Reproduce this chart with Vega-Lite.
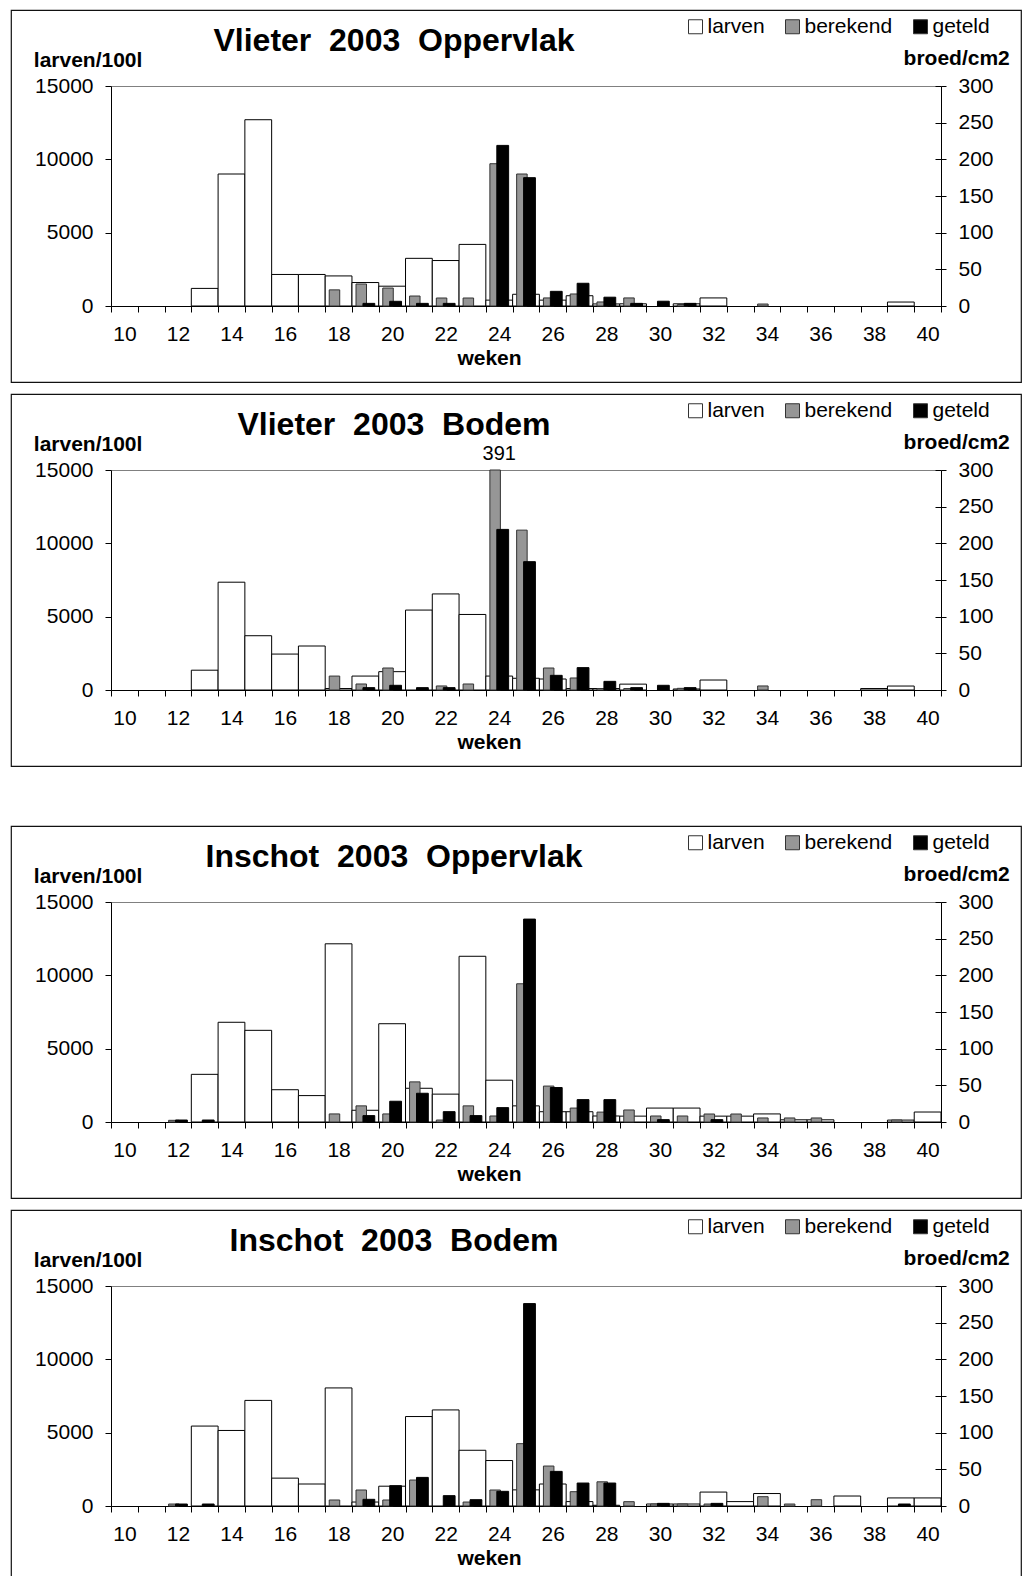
{
  "$schema": "https://vega.github.io/schema/vega-lite/v6.json",
  "background": "white",
  "padding": {"left": 10, "top": 9, "right": 0, "bottom": 0},
  "config": {
    "font": "Liberation Sans",
    "view": {"stroke": "#111111", "strokeWidth": 1.2},
    "axis": {
      "grid": false,
      "labelFont": "Liberation Sans",
      "labelFontSize": 21,
      "labelColor": "black",
      "titleFont": "Liberation Sans",
      "titleFontSize": 21,
      "titleFontWeight": "bold",
      "titleColor": "black",
      "domainColor": "black",
      "tickColor": "black",
      "domainWidth": 1,
      "tickWidth": 1
    }
  },
  "spacing": 58,
  "resolve": {"scale": {"color": "independent", "x": "independent", "y": "independent"}, "legend": {"color": "independent"}},
  "vconcat": [
    {
      "spacing": 10,
      "resolve": {"scale": {"color": "independent", "x": "independent", "y": "independent"}, "legend": {"color": "independent"}},
      "vconcat": [
        {
          "width": 1010,
          "height": 372,
          "title": {"text": "Vlieter \u00a02003 \u00a0Oppervlak", "anchor": "middle", "frame": "group", "dx": -122, "dy": 34, "offset": -39, "baseline": "alphabetic", "fontSize": 32, "fontWeight": "bold", "font": "Liberation Sans", "color": "black"},
          "data": {"values": [
            {"week": 13, "larven": 1200},
            {"week": 14, "larven": 9000},
            {"week": 15, "larven": 12700},
            {"week": 16, "larven": 2150},
            {"week": 17, "larven": 2150},
            {"week": 18, "larven": 2050, "berekend": 22},
            {"week": 19, "larven": 1600, "berekend": 30, "geteld": 3.6},
            {"week": 20, "larven": 1350, "berekend": 24.5, "geteld": 6.4},
            {"week": 21, "larven": 3250, "berekend": 13.6, "geteld": 3.6},
            {"week": 22, "larven": 3100, "berekend": 10.9, "geteld": 3.6},
            {"week": 23, "larven": 4200, "berekend": 10.9},
            {"week": 24, "larven": 400, "berekend": 194, "geteld": 219},
            {"week": 25, "larven": 800, "berekend": 180, "geteld": 175},
            {"week": 26, "larven": 400, "berekend": 11, "geteld": 20},
            {"week": 27, "larven": 700, "berekend": 16.4, "geteld": 31},
            {"week": 28, "larven": 140, "berekend": 5.5, "geteld": 12},
            {"week": 29, "larven": 150, "berekend": 11, "geteld": 3.6},
            {"week": 30, "geteld": 6.5},
            {"week": 31, "larven": 150, "berekend": 2, "geteld": 3.6},
            {"week": 32, "larven": 550},
            {"week": 34, "berekend": 2.7},
            {"week": 39, "larven": 270}
          ]},
          "encoding": {
            "x": {"field": "week", "type": "quantitative",
              "scale": {"domain": [9.5, 40.5], "range": [100, 930], "nice": false, "zero": false, "padding": 0},
              "axis": {"orient": "bottom", "offset": -76, "values": [9.5,10.5,11.5,12.5,13.5,14.5,15.5,16.5,17.5,18.5,19.5,20.5,21.5,22.5,23.5,24.5,25.5,26.5,27.5,28.5,29.5,30.5,31.5,32.5,33.5,34.5,35.5,36.5,37.5,38.5,39.5,40.5],
                "labelExpr": "(datum.value + 0.5) % 2 === 0 ? '' + (datum.value + 0.5) : ''",
                "labelOffset": 13.39, "tickSize": 6, "labelPadding": 11.5, "labelFlush": false, "labelOverlap": false, "labelBound": false,
                "title": "weken", "titleX": 478, "titleY": 58, "titleAlign": "center", "titleBaseline": "alphabetic"}}
          },
          "resolve": {"scale": {"y": "independent"}},
          "layer": [
            {
              "mark": {"type": "bar", "width": 26.77, "stroke": "black", "strokeWidth": 1},
              "encoding": {
                "y": {"field": "larven", "type": "quantitative",
                  "scale": {"domain": [0, 15000], "range": [296, 76], "nice": false},
                  "axis": {"orient": "left", "offset": -100, "values": [0, 5000, 10000, 15000], "format": "d", "tickSize": 6, "labelPadding": 12,
                    "title": "larven/100l", "titleAngle": 0, "titleX": -77.7, "titleY": 56.5, "titleAlign": "left", "titleBaseline": "alphabetic",
                    "grid": true, "gridColor": "#808080", "gridWidth": 1.2, "gridOpacity": {"condition": {"test": "datum.value === 15000", "value": 1}, "value": 0}}},
                "color": {"datum": "larven", "type": "nominal",
                  "scale": {"domain": ["larven", "berekend", "geteld"], "range": ["#ffffff", "#969696", "#000000"]},
                  "legend": {"title": null, "orient": "none", "legendX": 674, "legendY": 6, "direction": "horizontal", "symbolType": "square", "symbolSize": 196, "symbolStrokeColor": "black", "symbolStrokeWidth": 1, "labelFontSize": 21, "labelFont": "Liberation Sans", "labelColor": "black", "labelOffset": 1.5, "columnPadding": 17, "padding": 0}}
              }
            },
            {
              "resolve": {"axis": {"y": "independent"}},
              "layer": [
                {
                  "mark": {"type": "bar", "width": 10.5, "xOffset": -4.1, "stroke": "#333333", "strokeWidth": 1},
                  "encoding": {
                    "y": {"field": "berekend", "type": "quantitative",
                      "scale": {"domain": [0, 300], "range": [296, 76], "nice": false, "clamp": true},
                      "axis": {"orient": "right", "offset": -80, "values": [0, 50, 100, 150, 200, 250, 300], "tickSize": 5, "labelPadding": 12,
                        "title": "broed/cm2", "titleAngle": 0, "titleX": 68.3, "titleY": 54, "titleAlign": "right", "titleBaseline": "alphabetic"}},
                    "color": {"datum": "berekend", "type": "nominal"}
                  }
                },
                {
                  "mark": {"type": "bar", "width": 11.8, "xOffset": 3.5, "stroke": "black", "strokeWidth": 1},
                  "encoding": {
                    "y": {"field": "geteld", "type": "quantitative",
                      "scale": {"domain": [0, 300], "range": [296, 76], "nice": false, "clamp": true},
                      "axis": {"orient": "right", "offset": -80, "values": [0, 50, 100, 150, 200, 250, 300], "tickSize": -6, "labels": false, "domain": false, "title": null}},
                    "color": {"datum": "geteld", "type": "nominal"}
                  }
                }
              ]
            }
          ]
        },
        {
          "width": 1010,
          "height": 372,
          "title": {"text": "Vlieter \u00a02003 \u00a0Bodem", "anchor": "middle", "frame": "group", "dx": -122, "dy": 34, "offset": -39, "baseline": "alphabetic", "fontSize": 32, "fontWeight": "bold", "font": "Liberation Sans", "color": "black"},
          "data": {"values": [
            {"week": 13, "larven": 1350},
            {"week": 14, "larven": 7350},
            {"week": 15, "larven": 3700},
            {"week": 16, "larven": 2450},
            {"week": 17, "larven": 3000},
            {"week": 18, "larven": 100, "berekend": 19},
            {"week": 19, "larven": 950, "berekend": 8.2, "geteld": 3.2},
            {"week": 20, "larven": 1250, "berekend": 30, "geteld": 6.4},
            {"week": 21, "larven": 5450, "geteld": 3.2},
            {"week": 22, "larven": 6550, "berekend": 5.5, "geteld": 3.2},
            {"week": 23, "larven": 5150, "berekend": 8.2},
            {"week": 24, "larven": 950, "berekend": 391, "geteld": 219},
            {"week": 25, "larven": 800, "berekend": 218, "geteld": 175},
            {"week": 26, "larven": 750, "berekend": 30, "geteld": 20},
            {"week": 27, "larven": 100, "berekend": 16.4, "geteld": 30.5},
            {"week": 28, "larven": 100, "berekend": 2, "geteld": 11.8},
            {"week": 29, "larven": 400, "berekend": 2, "geteld": 3.2},
            {"week": 30, "geteld": 6.4},
            {"week": 31, "larven": 70, "berekend": 2.3, "geteld": 3.2},
            {"week": 32, "larven": 680},
            {"week": 34, "berekend": 5.5},
            {"week": 38, "larven": 100},
            {"week": 39, "larven": 270}
          ]},
          "encoding": {
            "x": {"field": "week", "type": "quantitative",
              "scale": {"domain": [9.5, 40.5], "range": [100, 930], "nice": false, "zero": false, "padding": 0},
              "axis": {"orient": "bottom", "offset": -76, "values": [9.5,10.5,11.5,12.5,13.5,14.5,15.5,16.5,17.5,18.5,19.5,20.5,21.5,22.5,23.5,24.5,25.5,26.5,27.5,28.5,29.5,30.5,31.5,32.5,33.5,34.5,35.5,36.5,37.5,38.5,39.5,40.5],
                "labelExpr": "(datum.value + 0.5) % 2 === 0 ? '' + (datum.value + 0.5) : ''",
                "labelOffset": 13.39, "tickSize": 6, "labelPadding": 11.5, "labelFlush": false, "labelOverlap": false, "labelBound": false,
                "title": "weken", "titleX": 478, "titleY": 58, "titleAlign": "center", "titleBaseline": "alphabetic"}}
          },
          "resolve": {"scale": {"y": "independent"}},
          "layer": [
            {
              "mark": {"type": "bar", "width": 26.77, "stroke": "black", "strokeWidth": 1},
              "encoding": {
                "y": {"field": "larven", "type": "quantitative",
                  "scale": {"domain": [0, 15000], "range": [296, 76], "nice": false},
                  "axis": {"orient": "left", "offset": -100, "values": [0, 5000, 10000, 15000], "format": "d", "tickSize": 6, "labelPadding": 12,
                    "title": "larven/100l", "titleAngle": 0, "titleX": -77.7, "titleY": 56.5, "titleAlign": "left", "titleBaseline": "alphabetic",
                    "grid": true, "gridColor": "#808080", "gridWidth": 1.2, "gridOpacity": {"condition": {"test": "datum.value === 15000", "value": 1}, "value": 0}}},
                "color": {"datum": "larven", "type": "nominal",
                  "scale": {"domain": ["larven", "berekend", "geteld"], "range": ["#ffffff", "#969696", "#000000"]},
                  "legend": {"title": null, "orient": "none", "legendX": 674, "legendY": 6, "direction": "horizontal", "symbolType": "square", "symbolSize": 196, "symbolStrokeColor": "black", "symbolStrokeWidth": 1, "labelFontSize": 21, "labelFont": "Liberation Sans", "labelColor": "black", "labelOffset": 1.5, "columnPadding": 17, "padding": 0}}
              }
            },
            {
              "resolve": {"axis": {"y": "independent"}},
              "layer": [
                {
                  "mark": {"type": "bar", "width": 10.5, "xOffset": -4.1, "stroke": "#333333", "strokeWidth": 1},
                  "encoding": {
                    "y": {"field": "berekend", "type": "quantitative",
                      "scale": {"domain": [0, 300], "range": [296, 76], "nice": false, "clamp": true},
                      "axis": {"orient": "right", "offset": -80, "values": [0, 50, 100, 150, 200, 250, 300], "tickSize": 5, "labelPadding": 12,
                        "title": "broed/cm2", "titleAngle": 0, "titleX": 68.3, "titleY": 54, "titleAlign": "right", "titleBaseline": "alphabetic"}},
                    "color": {"datum": "berekend", "type": "nominal"}
                  }
                },
                {
                  "mark": {"type": "bar", "width": 11.8, "xOffset": 3.5, "stroke": "black", "strokeWidth": 1},
                  "encoding": {
                    "y": {"field": "geteld", "type": "quantitative",
                      "scale": {"domain": [0, 300], "range": [296, 76], "nice": false, "clamp": true},
                      "axis": {"orient": "right", "offset": -80, "values": [0, 50, 100, 150, 200, 250, 300], "tickSize": -6, "labels": false, "domain": false, "title": null}},
                    "color": {"datum": "geteld", "type": "nominal"}
                  }
                },
                {
                  "transform": [{"filter": "datum.berekend > 300"}],
                  "mark": {"type": "text", "fontSize": 20, "baseline": "alphabetic", "dy": -10, "color": "black", "font": "Liberation Sans"},
                  "encoding": {
                    "y": {"field": "berekend", "type": "quantitative",
                      "scale": {"domain": [0, 300], "range": [296, 76], "nice": false, "clamp": true},
                      "axis": null},
                    "text": {"field": "berekend", "type": "quantitative"}
                  }
                }
              ]
            }
          ]
        }
      ]
    },
    {
      "spacing": 10,
      "resolve": {"scale": {"color": "independent", "x": "independent", "y": "independent"}, "legend": {"color": "independent"}},
      "vconcat": [
        {
          "width": 1010,
          "height": 372,
          "title": {"text": "Inschot \u00a02003 \u00a0Oppervlak", "anchor": "middle", "frame": "group", "dx": -122, "dy": 34, "offset": -39, "baseline": "alphabetic", "fontSize": 32, "fontWeight": "bold", "font": "Liberation Sans", "color": "black"},
          "data": {"values": [
            {"week": 12, "berekend": 2.3, "geteld": 2.7},
            {"week": 13, "larven": 3250, "geteld": 2.7},
            {"week": 14, "larven": 6800},
            {"week": 15, "larven": 6250},
            {"week": 16, "larven": 2200},
            {"week": 17, "larven": 1800},
            {"week": 18, "larven": 12150, "berekend": 11},
            {"week": 19, "larven": 800, "berekend": 22, "geteld": 8.7},
            {"week": 20, "larven": 6700, "berekend": 11, "geteld": 28.3},
            {"week": 21, "larven": 2300, "berekend": 54.7, "geteld": 39.2},
            {"week": 22, "larven": 1900, "berekend": 2.7, "geteld": 14.1},
            {"week": 23, "larven": 11300, "berekend": 22, "geteld": 8.7},
            {"week": 24, "larven": 2850, "berekend": 8.2, "geteld": 19.6},
            {"week": 25, "larven": 1100, "berekend": 188.5, "geteld": 276.7},
            {"week": 26, "larven": 700, "berekend": 49, "geteld": 47},
            {"week": 27, "larven": 700, "berekend": 19, "geteld": 30.5},
            {"week": 28, "larven": 410, "berekend": 13.5, "geteld": 30.5},
            {"week": 29, "larven": 400, "berekend": 16.4},
            {"week": 30, "larven": 950, "berekend": 8.2, "geteld": 3.2},
            {"week": 31, "larven": 950, "berekend": 8.2},
            {"week": 32, "larven": 400, "berekend": 10.9, "geteld": 3.2},
            {"week": 33, "larven": 400, "berekend": 10.9},
            {"week": 34, "larven": 550, "berekend": 5.5},
            {"week": 35, "larven": 150, "berekend": 5.5},
            {"week": 36, "larven": 150, "berekend": 5.5},
            {"week": 39, "larven": 130, "berekend": 2.7},
            {"week": 40, "larven": 680}
          ]},
          "encoding": {
            "x": {"field": "week", "type": "quantitative",
              "scale": {"domain": [9.5, 40.5], "range": [100, 930], "nice": false, "zero": false, "padding": 0},
              "axis": {"orient": "bottom", "offset": -76, "values": [9.5,10.5,11.5,12.5,13.5,14.5,15.5,16.5,17.5,18.5,19.5,20.5,21.5,22.5,23.5,24.5,25.5,26.5,27.5,28.5,29.5,30.5,31.5,32.5,33.5,34.5,35.5,36.5,37.5,38.5,39.5,40.5],
                "labelExpr": "(datum.value + 0.5) % 2 === 0 ? '' + (datum.value + 0.5) : ''",
                "labelOffset": 13.39, "tickSize": 6, "labelPadding": 11.5, "labelFlush": false, "labelOverlap": false, "labelBound": false,
                "title": "weken", "titleX": 478, "titleY": 58, "titleAlign": "center", "titleBaseline": "alphabetic"}}
          },
          "resolve": {"scale": {"y": "independent"}},
          "layer": [
            {
              "mark": {"type": "bar", "width": 26.77, "stroke": "black", "strokeWidth": 1},
              "encoding": {
                "y": {"field": "larven", "type": "quantitative",
                  "scale": {"domain": [0, 15000], "range": [296, 76], "nice": false},
                  "axis": {"orient": "left", "offset": -100, "values": [0, 5000, 10000, 15000], "format": "d", "tickSize": 6, "labelPadding": 12,
                    "title": "larven/100l", "titleAngle": 0, "titleX": -77.7, "titleY": 56.5, "titleAlign": "left", "titleBaseline": "alphabetic",
                    "grid": true, "gridColor": "#808080", "gridWidth": 1.2, "gridOpacity": {"condition": {"test": "datum.value === 15000", "value": 1}, "value": 0}}},
                "color": {"datum": "larven", "type": "nominal",
                  "scale": {"domain": ["larven", "berekend", "geteld"], "range": ["#ffffff", "#969696", "#000000"]},
                  "legend": {"title": null, "orient": "none", "legendX": 674, "legendY": 6, "direction": "horizontal", "symbolType": "square", "symbolSize": 196, "symbolStrokeColor": "black", "symbolStrokeWidth": 1, "labelFontSize": 21, "labelFont": "Liberation Sans", "labelColor": "black", "labelOffset": 1.5, "columnPadding": 17, "padding": 0}}
              }
            },
            {
              "resolve": {"axis": {"y": "independent"}},
              "layer": [
                {
                  "mark": {"type": "bar", "width": 10.5, "xOffset": -4.1, "stroke": "#333333", "strokeWidth": 1},
                  "encoding": {
                    "y": {"field": "berekend", "type": "quantitative",
                      "scale": {"domain": [0, 300], "range": [296, 76], "nice": false, "clamp": true},
                      "axis": {"orient": "right", "offset": -80, "values": [0, 50, 100, 150, 200, 250, 300], "tickSize": 5, "labelPadding": 12,
                        "title": "broed/cm2", "titleAngle": 0, "titleX": 68.3, "titleY": 54, "titleAlign": "right", "titleBaseline": "alphabetic"}},
                    "color": {"datum": "berekend", "type": "nominal"}
                  }
                },
                {
                  "mark": {"type": "bar", "width": 11.8, "xOffset": 3.5, "stroke": "black", "strokeWidth": 1},
                  "encoding": {
                    "y": {"field": "geteld", "type": "quantitative",
                      "scale": {"domain": [0, 300], "range": [296, 76], "nice": false, "clamp": true},
                      "axis": {"orient": "right", "offset": -80, "values": [0, 50, 100, 150, 200, 250, 300], "tickSize": -6, "labels": false, "domain": false, "title": null}},
                    "color": {"datum": "geteld", "type": "nominal"}
                  }
                }
              ]
            }
          ]
        },
        {
          "width": 1010,
          "height": 372,
          "title": {"text": "Inschot \u00a02003 \u00a0Bodem", "anchor": "middle", "frame": "group", "dx": -122, "dy": 34, "offset": -39, "baseline": "alphabetic", "fontSize": 32, "fontWeight": "bold", "font": "Liberation Sans", "color": "black"},
          "data": {"values": [
            {"week": 12, "berekend": 2.7, "geteld": 2.7},
            {"week": 13, "larven": 5450, "geteld": 2.7},
            {"week": 14, "larven": 5150},
            {"week": 15, "larven": 7200},
            {"week": 16, "larven": 1900},
            {"week": 17, "larven": 1500},
            {"week": 18, "larven": 8050, "berekend": 8.2},
            {"week": 19, "larven": 270, "berekend": 21.8, "geteld": 9.1},
            {"week": 20, "larven": 1350, "berekend": 8.2, "geteld": 27.7},
            {"week": 21, "larven": 6100, "berekend": 35.4, "geteld": 39},
            {"week": 22, "larven": 6550, "geteld": 14.1},
            {"week": 23, "larven": 3800, "berekend": 5.4, "geteld": 8.6},
            {"week": 24, "larven": 3100, "berekend": 21.8, "geteld": 20},
            {"week": 25, "larven": 1100, "berekend": 85, "geteld": 276},
            {"week": 26, "larven": 1500, "berekend": 54.5, "geteld": 47.2},
            {"week": 27, "larven": 300, "berekend": 19.5, "geteld": 31.3},
            {"week": 28, "larven": 50, "berekend": 33, "geteld": 31.3},
            {"week": 29, "berekend": 5.9},
            {"week": 30, "larven": 136, "berekend": 2.7, "geteld": 3.6},
            {"week": 31, "larven": 136, "berekend": 2.7},
            {"week": 32, "larven": 950, "berekend": 2.7, "geteld": 3.6},
            {"week": 33, "larven": 300},
            {"week": 34, "larven": 850, "berekend": 12.7},
            {"week": 35, "berekend": 2.7},
            {"week": 36, "berekend": 8.6},
            {"week": 37, "larven": 680},
            {"week": 39, "larven": 550, "geteld": 2.7},
            {"week": 40, "larven": 550}
          ]},
          "encoding": {
            "x": {"field": "week", "type": "quantitative",
              "scale": {"domain": [9.5, 40.5], "range": [100, 930], "nice": false, "zero": false, "padding": 0},
              "axis": {"orient": "bottom", "offset": -76, "values": [9.5,10.5,11.5,12.5,13.5,14.5,15.5,16.5,17.5,18.5,19.5,20.5,21.5,22.5,23.5,24.5,25.5,26.5,27.5,28.5,29.5,30.5,31.5,32.5,33.5,34.5,35.5,36.5,37.5,38.5,39.5,40.5],
                "labelExpr": "(datum.value + 0.5) % 2 === 0 ? '' + (datum.value + 0.5) : ''",
                "labelOffset": 13.39, "tickSize": 6, "labelPadding": 11.5, "labelFlush": false, "labelOverlap": false, "labelBound": false,
                "title": "weken", "titleX": 478, "titleY": 58, "titleAlign": "center", "titleBaseline": "alphabetic"}}
          },
          "resolve": {"scale": {"y": "independent"}},
          "layer": [
            {
              "mark": {"type": "bar", "width": 26.77, "stroke": "black", "strokeWidth": 1},
              "encoding": {
                "y": {"field": "larven", "type": "quantitative",
                  "scale": {"domain": [0, 15000], "range": [296, 76], "nice": false},
                  "axis": {"orient": "left", "offset": -100, "values": [0, 5000, 10000, 15000], "format": "d", "tickSize": 6, "labelPadding": 12,
                    "title": "larven/100l", "titleAngle": 0, "titleX": -77.7, "titleY": 56.5, "titleAlign": "left", "titleBaseline": "alphabetic",
                    "grid": true, "gridColor": "#808080", "gridWidth": 1.2, "gridOpacity": {"condition": {"test": "datum.value === 15000", "value": 1}, "value": 0}}},
                "color": {"datum": "larven", "type": "nominal",
                  "scale": {"domain": ["larven", "berekend", "geteld"], "range": ["#ffffff", "#969696", "#000000"]},
                  "legend": {"title": null, "orient": "none", "legendX": 674, "legendY": 6, "direction": "horizontal", "symbolType": "square", "symbolSize": 196, "symbolStrokeColor": "black", "symbolStrokeWidth": 1, "labelFontSize": 21, "labelFont": "Liberation Sans", "labelColor": "black", "labelOffset": 1.5, "columnPadding": 17, "padding": 0}}
              }
            },
            {
              "resolve": {"axis": {"y": "independent"}},
              "layer": [
                {
                  "mark": {"type": "bar", "width": 10.5, "xOffset": -4.1, "stroke": "#333333", "strokeWidth": 1},
                  "encoding": {
                    "y": {"field": "berekend", "type": "quantitative",
                      "scale": {"domain": [0, 300], "range": [296, 76], "nice": false, "clamp": true},
                      "axis": {"orient": "right", "offset": -80, "values": [0, 50, 100, 150, 200, 250, 300], "tickSize": 5, "labelPadding": 12,
                        "title": "broed/cm2", "titleAngle": 0, "titleX": 68.3, "titleY": 54, "titleAlign": "right", "titleBaseline": "alphabetic"}},
                    "color": {"datum": "berekend", "type": "nominal"}
                  }
                },
                {
                  "mark": {"type": "bar", "width": 11.8, "xOffset": 3.5, "stroke": "black", "strokeWidth": 1},
                  "encoding": {
                    "y": {"field": "geteld", "type": "quantitative",
                      "scale": {"domain": [0, 300], "range": [296, 76], "nice": false, "clamp": true},
                      "axis": {"orient": "right", "offset": -80, "values": [0, 50, 100, 150, 200, 250, 300], "tickSize": -6, "labels": false, "domain": false, "title": null}},
                    "color": {"datum": "geteld", "type": "nominal"}
                  }
                }
              ]
            }
          ]
        }
      ]
    }
  ]
}
